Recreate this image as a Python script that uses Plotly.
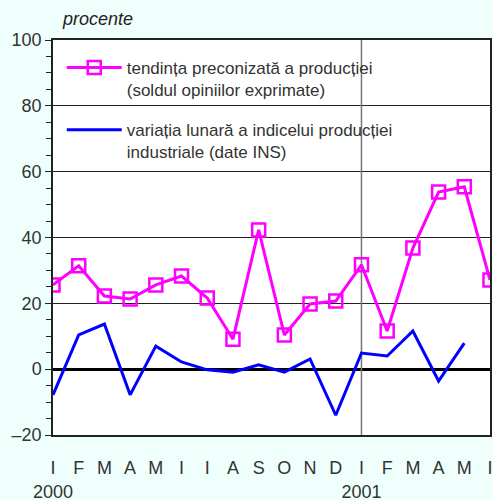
import plotly.graph_objects as go

# months Jan 2000 .. Jun 2001
months = ['I', 'F', 'M', 'A', 'M', 'I', 'I', 'A', 'S', 'O', 'N', 'D',
          'I', 'F', 'M', 'A', 'M', 'I']
month_ticks = ['I<br>2000'] + months[1:12] + ['I<br>2001'] + months[13:]

tendinta = [25.6, 31.4, 22.2, 21.3, 25.6, 28.3, 21.6, 9.1, 42.3, 10.4, 19.8, 20.7,
            31.7, 11.6, 36.8, 53.8, 55.4, 27.1]
variatia = [-7.8, 10.4, 13.7, -7.8, 7.0, 2.2, -0.2, -0.9, 1.3, -0.9, 3.1, -14.0,
            4.9, 4.0, 11.6, -3.6, 7.9]

y_ticks = [-20, 0, 20, 40, 60, 80, 100]
y_text = ['–20', '0', '20', '40', '60', '80', '100']

x = list(range(len(months)))

fig = go.Figure()
fig.add_trace(go.Scatter(
    x=x, y=tendinta, mode='lines+markers',
    name='tendința preconizată a producției<br>(soldul opiniilor exprimate)',
    line=dict(color='#ff00ff', width=3),
    marker=dict(symbol='square-open', size=13, color='#ff00ff', line=dict(width=2.5)),
    legendgroup='a'))
fig.add_trace(go.Scatter(
    x=x[:len(variatia)], y=variatia, mode='lines',
    name='variația lunară a indicelui producției<br>industriale (date INS)',
    line=dict(color='#0000ff', width=3),
    legendgroup='b'))

# vertical separator at Jan 2001 and white patch behind legend
fig.add_shape(type='line', x0=12, x1=12, y0=-20, y1=100, xref='x', yref='y',
              line=dict(color='#777777', width=1.5), layer='between')
fig.add_shape(type='rect', x0=0, x1=0.82, y0=0.685, y1=1, xref='paper', yref='paper',
              fillcolor='white', line=dict(width=0), layer='between')

fig.add_annotation(text='<i>procente</i>', xref='paper', yref='paper', x=0.015, y=1.0,
                   yshift=9, xanchor='left', yanchor='bottom', showarrow=False,
                   font=dict(size=18, color='#222'))

fig.update_xaxes(
    range=[0, 17], tickvals=x, ticktext=month_ticks, ticks='', showgrid=False,
    showline=True, linecolor='#222', linewidth=1.5, mirror=True,
    tickangle=0, automargin=False,
    ticklabelstandoff=16, tickfont=dict(size=18, color='#333'))
fig.update_yaxes(
    range=[-20, 100], tickvals=y_ticks, ticktext=y_text,
    ticks='outside', ticklen=6, tickcolor='#222', automargin=False,
    minor=dict(dtick=5, ticks='outside', ticklen=5, tickcolor='#222', showgrid=False),
    showgrid=True, gridcolor='#222', gridwidth=1,
    zeroline=True, zerolinecolor='black', zerolinewidth=2.5,
    showline=True, linecolor='#222', linewidth=1.5, mirror=True,
    tickfont=dict(size=18, color='#333'))

fig.update_layout(
    width=493, height=500,
    margin=dict(l=53, r=3, t=40, b=65),
    paper_bgcolor='#effffc', plot_bgcolor='white',
    font=dict(family='Liberation Sans, Arial, sans-serif', color='#333'),
    showlegend=True,
    legend=dict(x=0.02, y=0.975, xanchor='left', yanchor='top',
                bgcolor='rgba(0,0,0,0)', font=dict(size=17, color='#333'),
                valign='top', tracegroupgap=15, itemwidth=55),
)

fig.write_html("out.html", config={'displayModeBar': False},
               post_script="document.body.style.margin='0';")
